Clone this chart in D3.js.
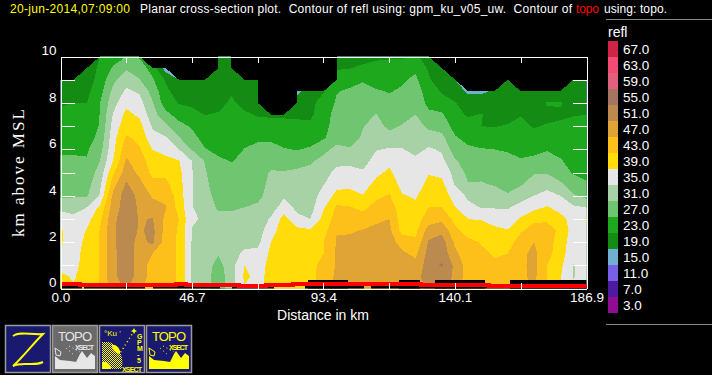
<!DOCTYPE html>
<html>
<head>
<meta charset="utf-8">
<script src="https://cdn.jsdelivr.net/npm/d3@7"></script>
<style>
body { margin: 0; background: #000; }
svg { display: block; }
text { font-family: "Liberation Sans", sans-serif; fill: #fff; white-space: pre; }
.axis path, .axis line { stroke: #fff; shape-rendering: crispEdges; }
.axis text { font-size: 13.5px; fill: #fff; font-family: "Liberation Sans", sans-serif; }
</style>
</head>
<body>
<svg id="plot" width="712" height="375"></svg>
<script>
// contour levels and the colours of the bands that start at them
var levels = [3,7,11,15,19,23,27,31,35,39,43,47,51,55,59,63,67];
var levelColors = ["#900c90","#4c1ca0","#7a60e6","#70b0d0","#148c14","#1ea81e","#70c670","#a6d2a6",
  "#e6e6e6","#ffdc0a","#fdc01b","#e0a336","#ba8a4e","#a47560","#e0607e","#f44a75","#ce2448"];

var heights = [0,0.5,1,1.5,2,2.5,3,3.5,4,4.5,5,5.5,6,6.5,7,7.5,8,8.5,9,9.5,10];
var distances = [0,4.67,9.35,14.02,18.69,23.36,28.04,32.71,37.38,42.05,46.73,51.4,56.07,60.74,65.42,70.09,
  74.76,79.43,84.11,88.78,93.45,98.12,102.8,107.47,112.14,116.81,121.49,126.16,130.83,135.5,140.18,144.85,
  149.52,154.19,158.87,163.54,168.21,172.88,177.56,182.23,186.9];

// reflectivity (dBZ), one list per distance, from 0 km upward. null = no echo
var refl = [
  [39.4,39.4,38.5,38.5,39.4,39.4,38,33.5,30.2,29.5,28.5,27.5,26.5,25.5,24.5,23.6,22.7,20.5,20,null,null],
  [39.2,38.8,38.3,38,37.5,37,35.8,33.8,30.5,29.5,28.5,27.5,26.5,25.5,24.5,23.7,23,20.5,20,null,null],
  [39.8,40,40,40,39.8,39.2,37.5,35,30.5,29.5,28.5,27.3,26.5,25.5,24.5,23.7,23,22,21,20,null],
  [43.3,43.3,43.3,43.3,43.4,43.2,42,39.8,35.4,34,32.5,31,29.5,28,27.3,27.1,26.9,25.5,24.5,24,23.6],
  [49,50,50,50,50.3,50.3,50,49,48,45.4,42.2,39,38,37.5,36.5,35.2,33.5,32,30,27.5,25],
  [51.5,53,53.5,53.5,53.5,53.8,53.5,53,53,51.5,49,47.5,45.5,43.5,41.5,40,38,35.7,33.5,30.5,27],
  [48,49.5,49,49,49.5,50.5,50.7,50.5,50,48.2,46.2,45,43.5,42,40.5,38.3,36.5,34.5,31.2,29,26.6],
  [44.5,45,45.5,47,52,52,51.2,48.5,46.5,44.2,42,41,38.9,36.2,34.5,32.6,31.3,29.5,27.5,25.5,null],
  [44.5,45,45,45,45,45.5,46,47.3,46,44,42,40.3,37.4,35.4,31.9,28.3,24.8,24,22.5,17,null],
  [42.5,42.5,42.5,42.5,42.5,42.5,43,41.5,41,40.5,40,39.2,35.1,31.2,28.4,25.2,22.8,21,20,null,null],
  [34.7,34.7,34.7,34.7,34.7,34.8,35.5,35.2,35.2,35.2,35.2,35,30.7,28.3,26.5,23.8,22.5,21,20,null,null],
  [33,33,33,33,33,33,34.5,33,32.5,31.8,31.3,30.7,27.2,25.5,24.3,22.9,22,21,20,null,null],
  [28,28.5,29.5,31.3,32,32,32,30.5,29.5,29,28.5,27.7,26,25,24.2,23.3,22,21.5,20.5,20,20],
  [33.5,33.5,33.5,33,32.8,32.5,32,30.5,29.5,29,28.5,26.8,25.8,25,24.3,23.8,23.5,22.7,20.5,20,20],
  [38.5,39.8,39,36,33.5,32.5,32,31,29.5,29,28.5,28,27.1,26,25,23.5,22,21,20,null,null],
  [38,38,37.5,36,34,33,32.5,31.7,30,29.5,28.5,28,27.5,26.7,24.3,22.7,21.5,21,20.5,null,null],
  [40,40,40,39.8,39,37.5,35.5,33,32.5,32,31.5,29,27.7,26.6,24,22.6,null,null,null,null,null],
  [41,41,41,41,41,41,40.5,37,34.4,33,31.3,29,27.2,25.5,24,22.5,null,null,null,null,null],
  [41,41,41,41,41,40.2,36,34,33.5,33,31.7,29.5,26.8,25,23.7,22.5,21,18,null,null,null],
  [42,42.3,42.5,42,41.5,39.5,35,33.5,33,32.5,32,30.5,27.5,25.3,24,22,22,21,null,null,null],
  [44,44,43.5,43,43,41.5,40.3,38.5,36.7,34.8,33.5,32,30,26.5,26,26,24.5,22.8,null,null,null],
  [48,48,47.5,47.5,47.3,46.8,44.7,43.7,40,38,36,34,32,29.5,28.3,27.8,27.5,26.8,24,22.8,21],
  [48,48,48,48,47.8,46.6,44.5,43.2,40.5,37.9,35.9,34.3,31.3,29.5,29,28.5,27.9,27.6,25.5,22.9,21.5],
  [50,50.5,49.5,49,48.5,47.2,44.7,42,39.2,37,35.5,33.5,32.5,31.5,30.8,29,28,27.7,26.8,23.5,22],
  [48,48,48,48,48,47.6,46.5,44.5,42,40.2,38,36.5,34.8,33.7,32.5,31.2,29.3,27.4,25.5,23.9,22.5],
  [48.5,48.5,48.3,48.5,48.5,48,47,45.6,43.3,41.7,39.8,38,35.3,32.6,30,28.6,27.8,26.8,25.5,24.5,22.5],
  [48,48,48,47.6,45.6,41.5,40.8,40,39.3,37.5,36.5,36,35.2,33,31.3,29.7,28.3,27.5,26.5,24.5,22.5],
  [49.5,50,48.2,46.2,43.8,42,41,40,38.5,37,36.5,36,33.7,33,32.5,31,29.5,28.5,27.8,26.2,23.5],
  [51.5,52.5,53,52.5,51.5,48.8,45,43,41.3,40.2,38.7,37.5,35.5,32.8,30.2,27.8,26,25.5,23.5,22.5,21.5],
  [52,53,55.5,53.5,53,50,46,43,41.5,40,38,36,34.5,32,29.5,27.5,24.8,22.5,20.5,19.5,null],
  [48,50.5,50,48,46.2,44,41.8,39.1,37,34.7,33.5,31.5,29,27.4,25.5,24.3,23.2,21,19.5,null,null],
  [45,45,45,44.5,43.8,41.5,39,36,34.3,31.2,30,29,27.7,25.8,24.8,22.5,21,18.3,null,null,null],
  [44,44,44,43.5,42.8,41,38.7,34.8,33,31.3,30,28.5,27.2,25,23,23.2,21,18.3,null,null,null],
  [43.5,43.5,43.3,42.8,41.3,39.8,37.7,34.7,32.8,30.7,29.5,28.2,27,24.8,22.8,21.5,20.5,19.5,null,null,null],
  [43.8,43.8,43.5,43,41,39.2,37,34.6,31.3,30,29,27.8,26.7,25,23.3,21.5,20.5,20,19.5,null,null],
  [45.5,46,46,46,45,42.5,39.5,36.3,33.5,30.5,29.5,27.3,26,25,24,22.8,21,20.5,null,null,null],
  [47.5,48,48.3,48,47,44.5,42.2,37.8,35,33,30.6,28,25.8,24.5,22.7,21.5,21,20.5,null,null,null],
  [42.8,42.9,43,44.3,44.5,44,42.6,39.3,36.4,33.5,30.7,28.7,26.7,25.5,23.3,22,23.3,20.5,null,null,null],
  [39.5,39.3,40,41,41.5,42.5,40.3,37.6,35,31.8,28.5,27.4,25.7,24.8,23.5,22.5,23.3,20.5,null,null,null],
  [36,34.8,34.8,36,36.5,37,37.5,35.7,31.5,28.5,26.7,25.5,24.5,24,24,22.8,21.5,20.5,20,null,null],
  [36.5,36.5,36.5,36.5,36.5,36.5,39.3,34.9,29.7,27.7,25.5,24.5,24,24,23.5,23,21,20.5,20,null,null]
];

// topo line (km)
var topoDist = [0,6.8,40.9,44.5,63.3,72.9,82.5,128,152.2,186.9];
var topoHeight = [0.19,0.14,0.19,0.14,0.10,0.14,0.19,0.14,0.10,0.10];

// black blanked stretches around the topo line (km)
var blankStart = [0,8.2,32.7,60.8,86.7,110.5,88.1,120.1,132.9,159.6];
var blankEnd = [7.5,30.2,56.5,75.7,107.7,186.9,102,127.9,151,186.9];
var blankTop = [0.09,0.09,0.09,0.09,0.09,0.09,0.38,0.38,0.38,0.38];

var xTicks = [0,23.36,46.7,70.09,93.4,116.8,140.1,163.5,186.9];
var xTickLabels = ["0.0","","46.7","","93.4","","140.1","","186.9"];
var yTicks = [0,1,2,3,4,5,6,7,8,9,10];
var yTickLabels = ["0","","2","","4","","6","","8","","10"];

var svg = d3.select("#plot");
var x = d3.scaleLinear().domain([0,186.9]).range([60.5,586.5]);
var y = d3.scaleLinear().domain([0,10]).range([288.5,56.5]);
var color = d3.scaleOrdinal().domain(levels).range(levelColors);

svg.append("clipPath").attr("id","area").append("rect")
  .attr("x",x(0)).attr("y",y(10)).attr("width",x(186.9)-x(0)).attr("height",y(0)-y(10));

// contours want one flat list, row by row
var flat = [];
heights.forEach(function(h,r) {
  distances.forEach(function(d,c) { flat.push(refl[c][r]); });
});

var contours = d3.contours().size([distances.length,heights.length]).thresholds(levels)(flat);

var gridToPlot = d3.geoTransform({
  point: function(cx,cy) {
    this.stream.point(x((cx-0.5)*4.6725), y((cy-0.5)*0.5));
  }
});
var path = d3.geoPath(gridToPlot);

var g = svg.append("g").attr("clip-path","url(#area)");

g.selectAll("path.band").data(contours).enter()
  .append("path")
  .attr("class","band")
  .attr("d",path)
  .attr("fill",function(d) { return color(d.value); })
  .attr("shape-rendering","crispEdges");

g.selectAll("rect.blank").data(blankStart).enter()
  .append("rect")
  .attr("class","blank")
  .attr("x",function(d) { return x(d); })
  .attr("width",function(d,i) { return x(blankEnd[i])-x(d); })
  .attr("y",function(d,i) { return y(blankTop[i]); })
  .attr("height",function(d,i) { return y(0)-y(blankTop[i]); })
  .attr("fill","#000")
  .attr("shape-rendering","crispEdges");

var topoLine = d3.line()
  .x(function(d) { return x(d); })
  .y(function(d,i) { return y(topoHeight[i]); })
  .curve(d3.curveStepAfter);

g.append("path")
  .attr("d",topoLine(topoDist))
  .attr("fill","none")
  .attr("stroke","#f00")
  .attr("stroke-width",4)
  .attr("shape-rendering","crispEdges");

// axes, ticks point into the plot
var bottom = svg.append("g").attr("class","axis").attr("transform","translate(0,"+y(0)+")")
  .call(d3.axisBottom(x).tickValues(xTicks).tickSizeInner(-6).tickSizeOuter(0)
    .tickFormat(function(d,i) { return xTickLabels[i]; }));
bottom.selectAll("text").attr("y",4).attr("dy","0.71em");

svg.append("g").attr("class","axis").attr("transform","translate(0,"+y(10)+")")
  .call(d3.axisTop(x).tickValues(xTicks).tickSizeInner(-6).tickSizeOuter(0).tickFormat(""));

var left = svg.append("g").attr("class","axis").attr("transform","translate("+x(0)+",0)")
  .call(d3.axisLeft(y).tickValues(yTicks).tickSizeInner(-14).tickSizeOuter(0)
    .tickFormat(function(d,i) { return yTickLabels[i]; }));
left.selectAll("text").attr("x",-4).attr("dy","-0.12em");

svg.append("g").attr("class","axis").attr("transform","translate("+x(186.9)+",0)")
  .call(d3.axisRight(y).tickValues(yTicks).tickSizeInner(-14).tickSizeOuter(0).tickFormat(""));

svg.selectAll(".axis").attr("font-size",null).attr("font-family",null);

svg.append("text").attr("x",323).attr("y",320).attr("text-anchor","middle")
  .style("font-size","14px").text("Distance in km");

svg.append("text")
  .attr("transform","translate(24,237) rotate(-90)")
  .style("font-family","'Liberation Serif',serif").style("font-size","17px").style("letter-spacing","2px")
  .text("km above MSL");

// title line
svg.append("text").attr("x",10).attr("y",13).attr("textLength",120).style("font-size","12px").style("fill","#ff0")
  .text("20-jun-2014,07:09:00");
svg.append("text").attr("x",140).attr("y",13).attr("textLength",432).style("font-size","12px")
  .text("Planar cross-section plot.  Contour of refl using: gpm_ku_v05_uw.  Contour of");
svg.append("text").attr("x",576).attr("y",13).attr("textLength",23).style("font-size","12px").style("fill","#f00")
  .text("topo");
svg.append("text").attr("x",604).attr("y",13).attr("textLength",63).style("font-size","12px")
  .text("using: topo.");

// legend
var legendLevels = levels.slice().reverse();
var legendY = d3.scaleBand().domain(legendLevels).range([41,313]);

svg.selectAll("rect.key").data(legendLevels).enter()
  .append("rect").attr("class","key")
  .attr("x",608).attr("width",10)
  .attr("y",function(d) { return legendY(d); })
  .attr("height",legendY.bandwidth())
  .attr("fill",function(d) { return color(d); });

svg.selectAll("text.key").data(legendLevels).enter()
  .append("text").attr("class","key")
  .attr("x",623)
  .attr("y",function(d) { return legendY(d)+legendY.bandwidth()/2; })
  .attr("dy","0.36em")
  .style("font-size","13.5px")
  .text(function(d) { return d3.format(".1f")(d); });

svg.append("text").attr("x",608).attr("y",37).style("font-size","14px").text("refl");

svg.append("line").attr("x1",606).attr("x2",712).attr("y1",19.5).attr("y2",19.5).attr("stroke","#888");
svg.append("line").attr("x1",606).attr("x2",712).attr("y1",324.5).attr("y2",324.5).attr("stroke","#888");

// the four buttons under the plot
var navy = "#191970";
function button(px,bg) {
  var b = svg.append("g").attr("transform","translate("+px+",325)");
  b.append("rect").attr("x",0.5).attr("y",0.5).attr("width",45).attr("height",47)
    .attr("fill",bg).attr("stroke","#9a9a9a").attr("stroke-width",1.5);
  return b;
}
function topoButton(b,fg) {
  b.append("text").attr("x",6).attr("y",16).attr("textLength",34).style("font-size","13px").style("fill",fg).text("TOPO");
  b.append("text").attr("x",23).attr("y",25).attr("textLength",19).style("font-size","7px").style("font-weight","bold").style("fill",fg).text("XSECT");
  b.append("path").attr("d","M3,31 L8,35 L18,36 L24,37 L28,29 L30,26 L35,33 L39,28 L43,31 L43,44 L3,44 Z").attr("fill",fg);
  b.append("path").attr("d","M3,23 L9,27 L8,31 L4,30 Z").attr("fill","none").attr("stroke",fg);
  b.append("path").attr("d","M14,23 L22,30 M17,21 L28,27").attr("stroke",fg).attr("stroke-dasharray","1 3");
}

var b1 = button(5,navy);
b1.append("path").attr("d","M8,11 C15,6 25,10 38,9 C26,21 18,32 8,41 C18,36 28,42 38,37")
  .attr("fill","none").attr("stroke","#ff0").attr("stroke-width",2);

topoButton(button(52,"#6a6a6a"),"#e6e6e6");

var b3 = button(99,navy);
var pat = svg.append("pattern").attr("id","check").attr("width",2).attr("height",2).attr("patternUnits","userSpaceOnUse");
pat.append("rect").attr("width",2).attr("height",2).attr("fill",navy);
pat.append("rect").attr("width",1).attr("height",1).attr("fill","#ff0");
pat.append("rect").attr("x",1).attr("y",1).attr("width",1).attr("height",1).attr("fill","#ff0");
b3.append("path").attr("d","M3,17 L10,17 C17,19 22,27 23,33 C24,38 23,44 22,44 L3,44 Z").attr("fill","url(#check)");
b3.append("path").attr("d","M3,37 C8,36 12,40 12,44 L3,44 Z").attr("fill","#ff0");
b3.append("path").attr("d","M13,20 C17,19 22,24 21,29 C16,28 13,25 13,20 Z").attr("fill","#ff0");
b3.append("text").attr("x",5).attr("y",11).style("font-size","8px").style("fill","#ff0").text("°Ku '");
b3.append("path").attr("d","M35,6 L20,30").attr("stroke","#ff0").attr("stroke-width",1.5).attr("stroke-dasharray","1 3");
b3.append("path").attr("d","M35,3 L36,5 L38,6 L36,7 L35,9 L34,7 L32,6 L34,5 Z").attr("fill","#ff0");
["G","P","M","-","5"].forEach(function(s,i) {
  b3.append("text").attr("x",38).attr("y",14+i*6).style("font-size","7px").style("font-weight","bold").style("fill","#ff0").text(s);
});
b3.append("text").attr("x",23).attr("y",46.5).attr("textLength",20).style("font-size","7px").style("font-weight","bold").style("fill","#ff0").text("XSECT");

topoButton(button(146,navy),"#ff0");
</script>
</body>
</html>
